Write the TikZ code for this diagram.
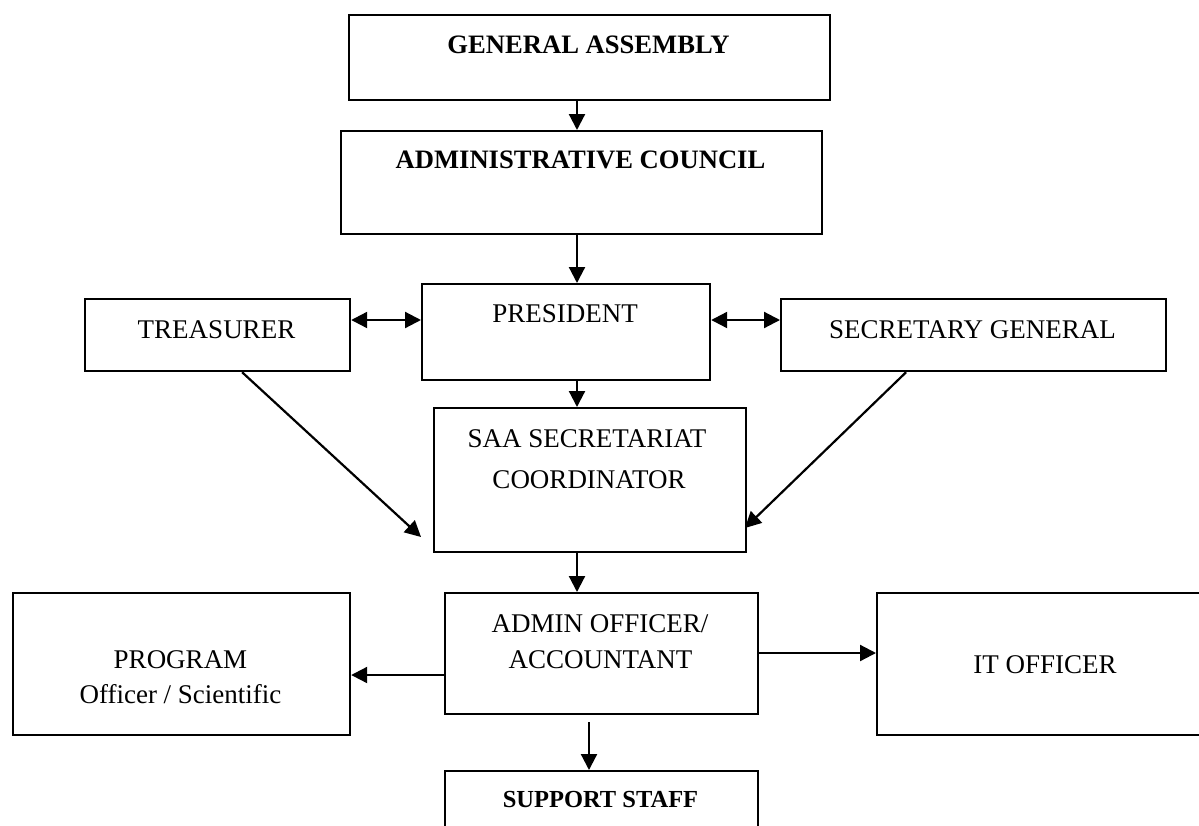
\documentclass[tikz,border=0pt]{standalone}
\usepackage{fontspec}
\setmainfont{Liberation Serif}
\usetikzlibrary{arrows.meta}
\begin{document}
\begin{tikzpicture}[x=1pt,y=-1pt,
  box/.style={draw=black,line width=2.2pt,rectangle,inner sep=0pt,anchor=north west},
  lbl/.style={anchor=base,inner sep=0pt,font=\fontsize{27}{32}\selectfont},
  blbl/.style={anchor=base,inner sep=0pt,font=\fontsize{26.6}{32}\selectfont\bfseries},
  arr/.style={line width=2.2pt,-{Triangle[length=16pt,width=16pt]}},
  darr/.style={line width=2.2pt,{Triangle[length=16pt,width=16pt]}-{Triangle[length=16pt,width=16pt]}}]
\useasboundingbox (0,0) rectangle (1199,825);
\fill[white] (0,0) rectangle (1199,825);
% boxes
\node[box,minimum width=481pt,minimum height=85pt] (ga) at (348,14) {};
\node[box,minimum width=481pt,minimum height=103pt] (ac) at (340,130) {};
\node[box,minimum width=288pt,minimum height=96pt] (pres) at (421,283) {};
\node[box,minimum width=265pt,minimum height=72pt] (treas) at (84,298) {};
\node[box,minimum width=385pt,minimum height=72pt] (secgen) at (780,298) {};
\node[box,minimum width=312pt,minimum height=144pt] (saa) at (433,407) {};
\node[box,minimum width=313pt,minimum height=121pt] (admin) at (444,592) {};
\node[box,minimum width=337pt,minimum height=142pt] (prog) at (12,592) {};
\node[box,minimum width=338pt,minimum height=142pt] (it) at (876,592) {};
\node[box,minimum width=313pt,minimum height=90pt] (support) at (444,770) {};
% texts
\node[blbl] (gat) at (588.5,53) {GENERAL ASSEMBLY};
\node[blbl] (act) at (580.5,168) {ADMINISTRATIVE COUNCIL};
\node[lbl] (prest) at (565,322) {PRESIDENT};
\node[lbl] (treast) at (216.5,338) {TREASURER};
\node[lbl] (secgent) at (972.5,338) {SECRETARY GENERAL};
\node[lbl] (saat1) at (587,447) {SAA SECRETARIAT};
\node[lbl] (saat2) at (589,488) {COORDINATOR};
\node[lbl] (admint1) at (600,632) {ADMIN OFFICER/};
\node[lbl] (admint2) at (600.5,668) {ACCOUNTANT};
\node[lbl] (progt1) at (180.5,668) {PROGRAM};
\node[lbl] (progt2) at (180.5,703) {Officer / Scientific};
\node[lbl] (itt) at (1045,673) {IT OFFICER};
\node[anchor=base,inner sep=0pt,font=\fontsize{24.5}{30}\selectfont\bfseries] (supportt) at (600.5,807) {SUPPORT STAFF};
% helper coordinates
\coordinate (spine) at (577,0);
\coordinate (hrow) at (0,320);
\coordinate (lrow) at (0,675);
\coordinate (rrow) at (0,653);
\coordinate (ttip) at (421,537);
\coordinate (stip) at (745,528);
\coordinate (adown) at (589,722);
% connectors
\draw[arr] (ga.south -| spine) -- (ac.north -| spine);
\draw[arr] (ac.south -| spine) -- (pres.north -| spine);
\draw[arr] (pres.south -| spine) -- (saa.north -| spine);
\draw[arr] (saa.south -| spine) -- (admin.north -| spine);
\draw[darr] (treas.east |- hrow) -- (pres.west |- hrow);
\draw[darr] (pres.east |- hrow) -- (secgen.west |- hrow);
\draw[arr] ([xshift=24.5pt]treas.south) -- (ttip);
\draw[arr] ([xshift=-67.5pt]secgen.south) -- (stip);
\draw[arr] (admin.west |- lrow) -- (prog.east |- lrow);
\draw[arr] (admin.east |- rrow) -- (it.west |- rrow);
\draw[arr] (adown) -- (support.north -| adown);
\end{tikzpicture}
\end{document}
